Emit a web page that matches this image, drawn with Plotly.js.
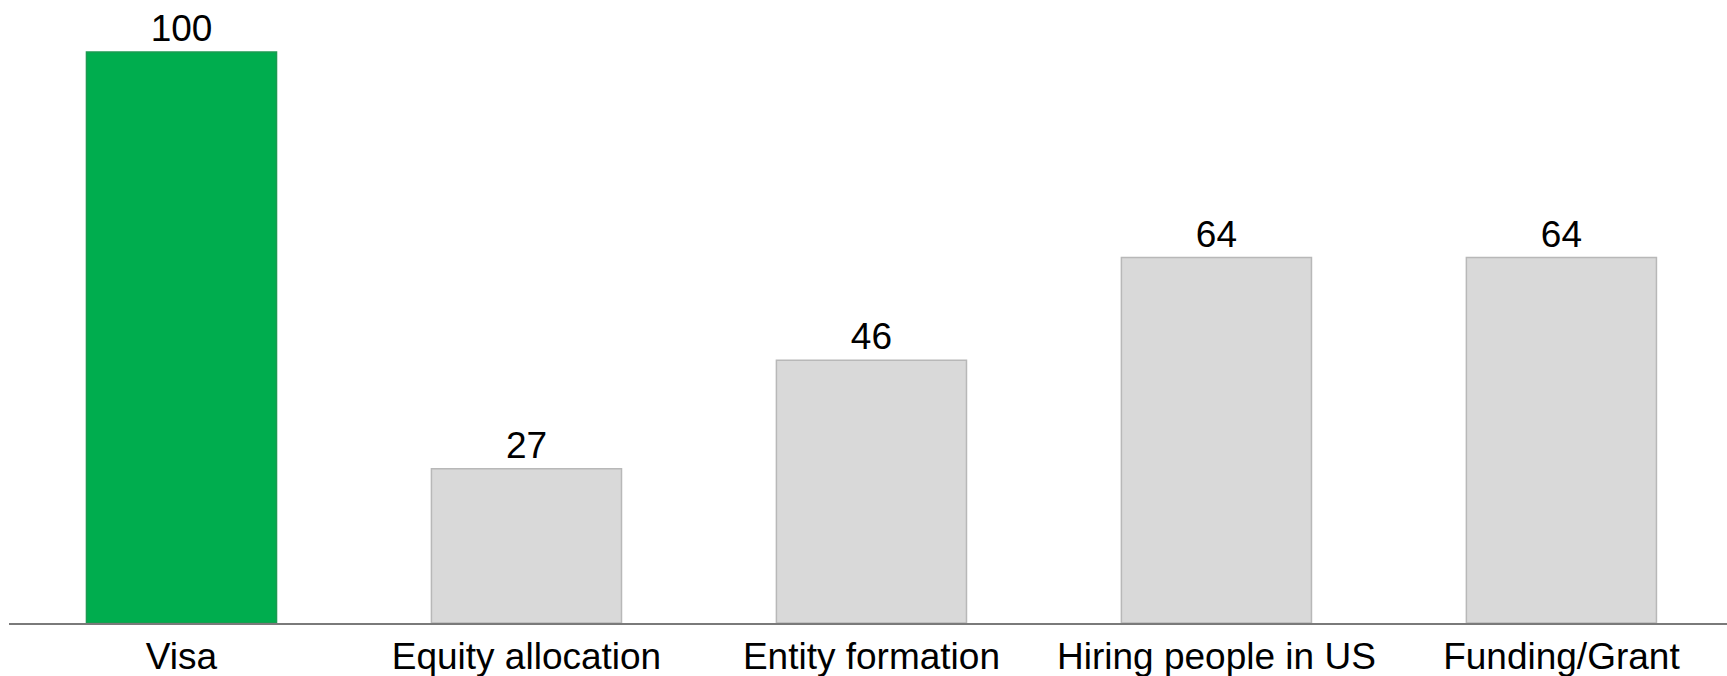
<!DOCTYPE html>
<html>
<head>
<meta charset="utf-8">
<script src="https://cdn.plot.ly/plotly-3.0.1.min.js"></script>
<style>
html,body{margin:0;padding:0;background:#fff;}
#chart{width:1727px;height:676px;}
</style>
</head>
<body>
<div id="chart"></div>
<script>
const categories = ["Visa", "Equity allocation", "Entity formation", "Hiring people in US", "Funding/Grant"];
const values = [100, 27, 46, 64, 64];
const barColors = ["#00ad4e", "#d9d9d9", "#d9d9d9", "#d9d9d9", "#d9d9d9"];
const borderColors = ["#1d9a52", "#b8b8b8", "#b8b8b8", "#b8b8b8", "#b8b8b8"];

const trace = {
  type: "bar",
  x: categories,
  y: values,
  marker: {color: barColors, line: {color: borderColors, width: 1.5}},
  text: values.map(String),
  textposition: "outside",
  textfont: {family: "Liberation Sans, Arial, sans-serif", size: 37, color: "#000"},
  cliponaxis: false,
  hoverinfo: "none"
};

const layout = {
  width: 1727, height: 676,
  margin: {l: 9, r: 0, t: 0, b: 53},
  paper_bgcolor: "#fff", plot_bgcolor: "#fff",
  bargap: 0.449,
  showlegend: false,
  font: {family: "Liberation Sans, Arial, sans-serif", size: 37, color: "#000"},
  xaxis: {
    range: [-0.5, 4.48],
    showgrid: false, zeroline: false,
    showline: true, linecolor: "#7a7a7a", linewidth: 2,
    ticks: "", tickfont: {size: 37, color: "#000"},
    fixedrange: true
  },
  yaxis: {
    range: [0, 109.1],
    visible: false, showgrid: false, zeroline: false,
    fixedrange: true
  }
};

Plotly.newPlot("chart", [trace], layout, {displayModeBar: false, staticPlot: true});
</script>
</body>
</html>
